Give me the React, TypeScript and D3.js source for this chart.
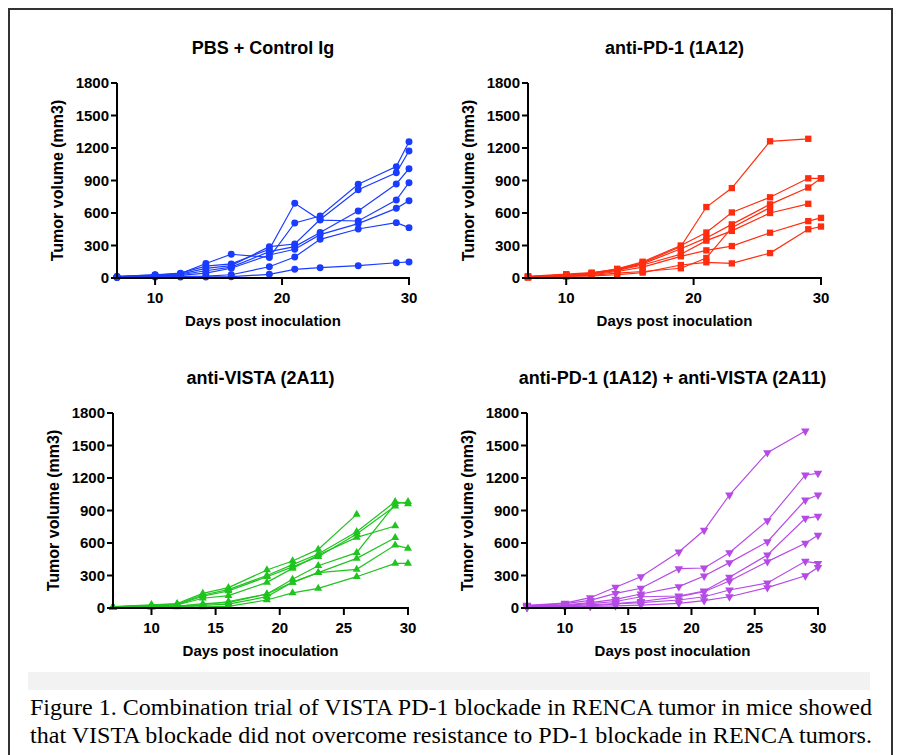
import * as d3 from 'd3';

const days = [7, 10, 12, 14, 16, 19, 21, 23, 26, 29, 30];
const yTicks = [0, 300, 600, 900, 1200, 1500, 1800];
const xTicksTop = [10, 20, 30];
const xTicksBottom = [10, 15, 20, 25, 30];

// tumor volume per mouse (mm3), one row per mouse, aligned with days
const pbsControl = [
  [15, 30, 45, 110, 130, 265, 690, 535, 526, 720, 880],
  [10, 25, 40, 134, 219, 190, 508, 572, 865, 1028, 1258],
  [12, 28, 35, 88, 115, 289, 314, 540, 815, 971, 1172],
  [10, 22, 30, 67, 100, 243, 290, 420, 618, 868, 1009],
  [8, 20, 25, 45, 90, 212, 265, 400, 502, 643, 714],
  [5, 15, 15, 18, 30, 104, 194, 357, 452, 511, 465],
  [5, 10, 10, 10, 12, 34, 80, 95, 114, 141, 148]
];

const antiPD1 = [
  [15, 35, 50, 80, 140, 290, 655, 830, 1262, 1285, null],
  [12, 30, 45, 85, 150, 300, 420, 605, 745, 920, 920],
  [10, 30, 40, 75, 130, 270, 370, 495, 680, 835, 920],
  [10, 25, 35, 70, 120, 220, 345, 435, 600, 685, null],
  [8, 20, 30, 60, 100, 200, 255, 295, 418, 525, 555],
  [5, 15, 20, 30, 50, 120, 145, 135, 230, 450, 475],
  [8, 18, 25, 45, 60, 90, 185, 465, 650, null, null]
];

const antiVISTA = [
  [12, 30, 40, 135, 188, 351, 434, 541, 864, null, null],
  [10, 25, 35, 120, 170, 300, 400, 498, 704, 981, 960],
  [10, 22, 30, 110, 157, 289, 380, 474, 683, 941, null],
  [8, 20, 28, 90, 114, 237, 366, 490, 652, 757, null],
  [5, 15, 20, 30, 60, 129, 265, 390, 511, 960, 981],
  [5, 12, 15, 40, 49, 129, 237, 326, 458, 649, null],
  [5, 10, 12, 25, 35, 105, 237, 326, 357, 581, 550],
  [3, 8, 10, 10, 15, 74, 140, 181, 289, 412, 412]
];

const combo = [
  [25, 45, 95, 191, 289, 517, 717, 1043, 1434, 1634, null],
  [20, 40, 70, 135, 182, 363, 369, 511, 806, 1228, 1243],
  [15, 30, 50, 80, 129, 197, 295, 419, 612, 997, 1043],
  [12, 25, 40, 60, 104, 111, 157, 283, 489, 828, 846],
  [10, 20, 30, 40, 60, 105, 150, 249, 428, 597, 671],
  [10, 15, 20, 37, 50, 74, 104, 166, 231, 431, 412],
  [5, 10, 15, 20, 27, 43, 68, 104, 188, 298, 375]
];

type Panel = {
  title: string;
  data: (number | null)[][];
  color: string;
  symbol: d3.SymbolType;
  size: number;
  rotate: number;
  xTicks: number[];
  left: number;
  right: number;
  top: number;
  bottom: number;
};

const FONT = "'Liberation Sans', Arial, sans-serif";
const SERIF = "'Liberation Serif', 'Times New Roman', serif";

function ChartPanel({ p }: { p: Panel }) {
  const x = d3.scaleLinear().domain([7, 30]).range([p.left, p.right]);
  const y = d3.scaleLinear().domain([0, 1800]).range([p.bottom, p.top]);
  const line = d3
    .line<number | null>()
    .defined((d) => d != null)
    .x((_, i) => x(days[i]))
    .y((d) => y(d as number));
  const sym = d3.symbol().type(p.symbol).size(p.size)();
  const midY = (p.top + p.bottom) / 2;
  const midX = (p.left + p.right) / 2;

  return (
    <g>
      <text x={midX} y={p.top - 29} textAnchor="middle" fontFamily={FONT} fontWeight="bold" fontSize={18}>
        {p.title}
      </text>
      {p.data.map((row, k) => (
        <g key={k}>
          <path d={line(row) ?? ''} fill="none" stroke={p.color} strokeWidth={1.2} />
          {row.map((v, i) =>
            v == null ? null : (
              <path
                key={i}
                d={sym ?? ''}
                fill={p.color}
                transform={`translate(${x(days[i])},${y(v)}) rotate(${p.rotate})`}
              />
            )
          )}
        </g>
      ))}
      <line x1={p.left} x2={p.left} y1={p.top} y2={p.bottom} stroke="#000" strokeWidth={2} />
      <line x1={p.left - 1} x2={p.right + 1} y1={p.bottom} y2={p.bottom} stroke="#000" strokeWidth={2} />
      {yTicks.map((t) => (
        <g key={t}>
          <line x1={p.left - 6} x2={p.left} y1={y(t)} y2={y(t)} stroke="#000" strokeWidth={2} />
          <text x={p.left - 8} y={y(t)} dy="0.36em" textAnchor="end" fontFamily={FONT} fontWeight="bold" fontSize={15}>
            {t}
          </text>
        </g>
      ))}
      {p.xTicks.map((t) => (
        <g key={t}>
          <line x1={x(t)} x2={x(t)} y1={p.bottom} y2={p.bottom + 7} stroke="#000" strokeWidth={2} />
          <text x={x(t)} y={p.bottom + 25} textAnchor="middle" fontFamily={FONT} fontWeight="bold" fontSize={15}>
            {t}
          </text>
        </g>
      ))}
      <text x={midX} y={p.bottom + 48} textAnchor="middle" fontFamily={FONT} fontWeight="bold" fontSize={15}>
        Days post inoculation
      </text>
      <text
        transform={`translate(${p.left - 54},${midY}) rotate(-90)`}
        textAnchor="middle"
        fontFamily={FONT}
        fontWeight="bold"
        fontSize={16}
      >
        Tumor volume (mm3)
      </text>
    </g>
  );
}

const panels: Panel[] = [
  { title: 'PBS + Control Ig', data: pbsControl, color: '#1a3cff', symbol: d3.symbolCircle, size: 38, rotate: 0, xTicks: xTicksTop, left: 117, right: 409, top: 83, bottom: 278 },
  { title: 'anti-PD-1 (1A12)', data: antiPD1, color: '#ff2d0f', symbol: d3.symbolSquare, size: 40, rotate: 0, xTicks: xTicksTop, left: 528, right: 821, top: 83, bottom: 278 },
  { title: 'anti-VISTA (2A11)', data: antiVISTA, color: '#1fc41f', symbol: d3.symbolTriangle, size: 28, rotate: 0, xTicks: xTicksBottom, left: 113, right: 408, top: 413, bottom: 608 },
  { title: 'anti-PD-1 (1A12) + anti-VISTA (2A11)', data: combo, color: '#b64ae6', symbol: d3.symbolTriangle, size: 32, rotate: 180, xTicks: xTicksBottom, left: 527, right: 818, top: 413, bottom: 608 }
];

export default function App() {
  return (
    <div style={{ position: 'absolute', left: 0, top: 0 }}>
      <svg width={899} height={755} style={{ display: 'block', background: '#fff' }}>
        <rect x={9} y={9} width={883} height={770} fill="none" stroke="#333" strokeWidth={2} />
        {panels.map((p) => (
          <ChartPanel key={p.title} p={p} />
        ))}
        <rect x={28} y={672} width={842} height={18} fill="#f2f2f2" />
        <text x={30} y={715} fontFamily={SERIF} fontSize={24} textLength={842} lengthAdjust="spacingAndGlyphs">
          Figure 1. Combination trial of VISTA PD-1 blockade in RENCA tumor in mice showed
        </text>
        <text x={30} y={743} fontFamily={SERIF} fontSize={24} textLength={842} lengthAdjust="spacingAndGlyphs">
          that VISTA blockade did not overcome resistance to PD-1 blockade in RENCA tumors.
        </text>
      </svg>
    </div>
  );
}
